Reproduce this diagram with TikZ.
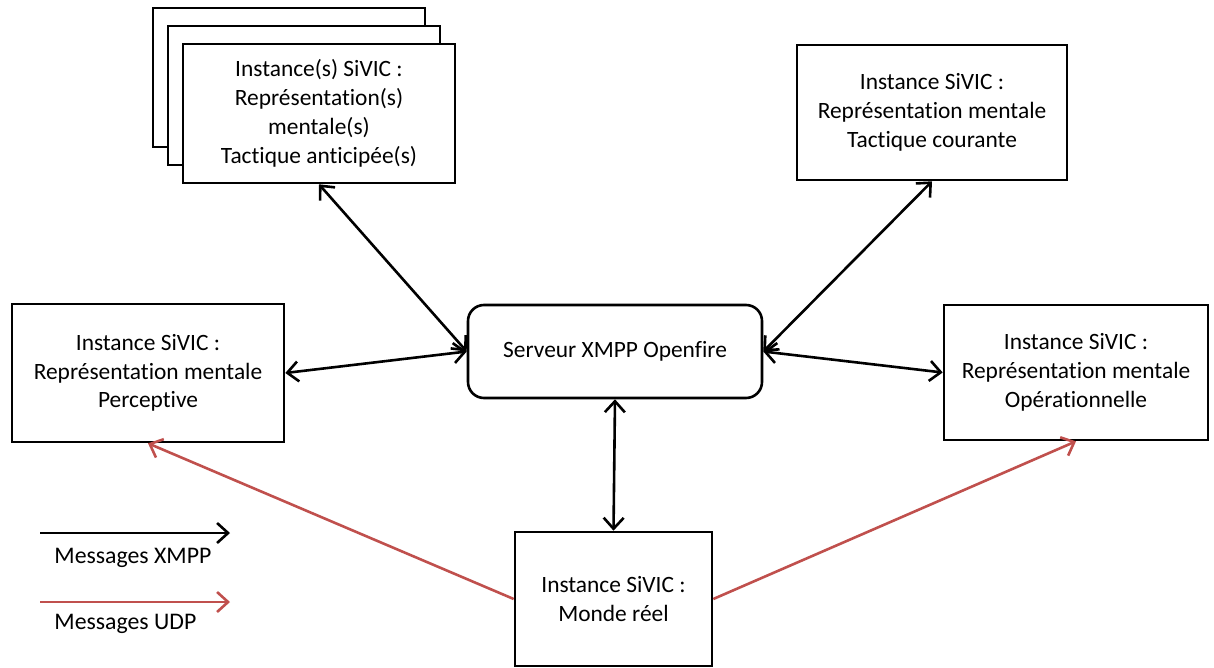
\documentclass[tikz,border=0pt]{standalone}
\usepackage{fontspec}
\setmainfont{Carlito}[Ligatures=NoCommon]
\usetikzlibrary{arrows.meta,positioning}
\definecolor{udpred}{HTML}{C0504D}
\tikzset{
  box/.style={draw, rectangle, line width=1.3pt, fill=white, align=center, inner sep=0pt,
    font=\fontsize{11.7}{14.4}\selectfont},
  srvbox/.style={box, rounded corners=8pt},
  barb/.style={line width=1.3pt},
  xmpp/.style={barb, {Straight Barb[length=5.5pt,width=10pt]}-{Straight Barb[length=5.5pt,width=10pt]}},
  udp/.style={barb, draw=udpred, -{Straight Barb[length=5.5pt,width=10pt]}},
  legtext/.style={anchor=west, inner sep=0pt, font=\fontsize{11.9}{13}\selectfont},
}
\begin{document}
\begin{tikzpicture}[x=0.5pt,y=-0.5pt]
\useasboundingbox (0,0) rectangle (1214,668);
% pile des instances anticipees
\node[box, minimum width=136pt, minimum height=69.5pt] (ant3) at (289,77.5) {};
\node[box, minimum width=136pt, minimum height=69.5pt] (ant2) at (304,95.5) {};
\node[box, minimum width=136pt, minimum height=69.5pt] (ant) at (319,113.5)
  {Instance(s) SiVIC :\\Représentation(s)\\mentale(s)\\Tactique anticipée(s)};
% autres instances
\node[box, minimum width=135pt, minimum height=67.5pt] (cour) at (932,112.5)
  {Instance SiVIC :\\Représentation mentale\\Tactique courante};
\node[box, minimum width=136pt, minimum height=69pt] (perc) at (148,373)
  {Instance SiVIC :\\Représentation mentale\\Perceptive};
\node[box, minimum width=132pt, minimum height=67.5pt] (oper) at (1076,372.5)
  {Instance SiVIC :\\Représentation mentale\\Opérationnelle};
\node[srvbox, minimum width=147pt, minimum height=46.5pt] (srv) at (615,351.5)
  {Serveur XMPP Openfire};
\node[box, minimum width=98.5pt, minimum height=67pt] (reel) at (613.5,599)
  {Instance SiVIC :\\Monde réel};
% messages XMPP
\draw[xmpp] (ant.south) -- (srv.west);
\draw[xmpp] (cour.south) -- (srv.east);
\draw[xmpp] (perc.east) -- (srv.west);
\draw[xmpp] (srv.east) -- (oper.west);
\draw[xmpp] (srv.south) -- (reel.north);
% messages UDP
\draw[udp] (reel.west) -- (perc.south);
\draw[udp] (reel.east) -- (oper.south);
% legende
\coordinate (lx0) at (40,533);
\coordinate (lx1) at (230,533);
\coordinate (lu0) at (40,602);
\coordinate (lu1) at (230,602);
\draw[barb, -{Straight Barb[length=5.5pt,width=10pt]}] (lx0) -- (lx1);
\draw[udp] (lu0) -- (lu1);
\node[legtext] (lxt) at (54,558) {Messages XMPP};
\node[legtext] (lut) at (54,624) {Messages UDP};
\end{tikzpicture}
\end{document}
